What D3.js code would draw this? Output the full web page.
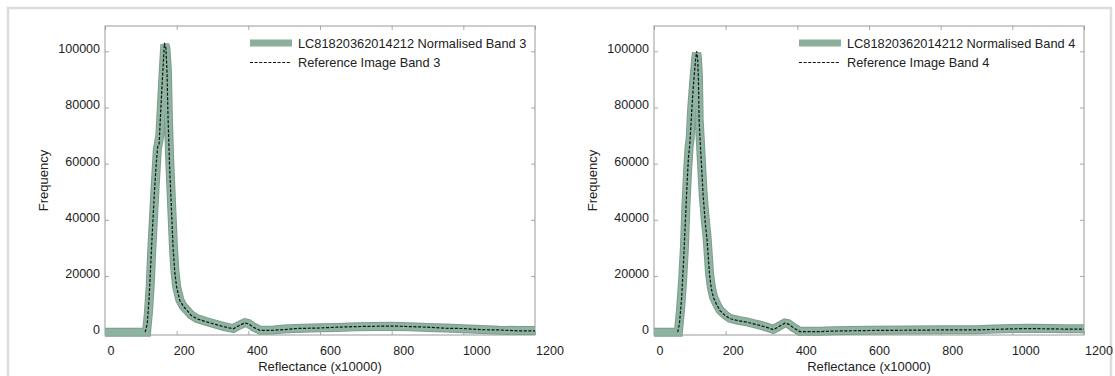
<!DOCTYPE html>
<html>
<head>
<meta charset="utf-8">
<script src="https://cdn.jsdelivr.net/npm/d3@7"></script>
<style>
    body { margin: 0; background: #fff; }
    svg text { font-family: Arial, "Liberation Sans", sans-serif; fill: #222; }
</style>
</head>
<body>
<div id="chart"></div>
<script>
// Reflectance (x10000) vs frequency
const band3 = [[0,0],[110,0],[116,0],[121,6700],[126,16200],[130,28000],[135,40000],[140,52000],[146,65000],[150,68000],[153,70000],[158,82000],[163,94000],[167,102500],[170,101000],[174,93600],[177,76000],[181,60000],[186,45000],[191,30500],[195,22000],[200,16200],[209,11400],[218,9300],[228,7900],[240,6200],[256,4900],[280,3900],[302,3100],[330,2100],[358,1300],[375,2500],[390,3400],[400,3100],[415,1800],[433,700],[470,800],[500,1100],[530,1300],[600,1600],[650,1700],[700,1900],[750,2000],[800,2100],[850,1900],[900,1700],[950,1500],[1000,1200],[1050,1000],[1100,700],[1150,600],[1200,600]];
const ref3 = [[112,0],[118,3000],[123,12000],[128,25000],[133,38000],[138,50000],[143,60000],[147,66000],[151,67000],[156,80000],[161,92000],[166,103000],[170,101000],[173,93000],[176,76000],[180,60000],[185,45000],[190,30000],[195,21000],[200,16000],[209,11200],[220,9000],[230,7600],[240,6000],[256,4800],[280,3800],[302,3000],[330,2000],[358,1200],[375,2400],[390,3300],[400,3000],[415,1700],[433,600],[470,700],[500,900],[530,1300],[600,1500],[650,1800],[700,2000],[750,2100],[800,2200],[850,2000],[900,1800],[950,1400],[1000,1300],[1050,900],[1100,800],[1150,500],[1200,500]];
const band4 = [[0,0],[63,0],[68,0],[74,7900],[80,18600],[85,30500],[89,44800],[94,58000],[98,66000],[101,69000],[105,79300],[112,91200],[117,98000],[119,99500],[121,98000],[124,91200],[126,76000],[131,64000],[137,49500],[143,40000],[148,34000],[155,21000],[160,16000],[166,12600],[175,10000],[184,7900],[198,6200],[212,4900],[235,4200],[259,3700],[280,3000],[296,2500],[315,1800],[333,1000],[350,2200],[365,3300],[375,3000],[390,1600],[407,300],[463,300],[500,500],[600,700],[700,800],[800,900],[900,900],[950,1100],[1000,1300],[1050,1400],[1100,1300],[1150,1200],[1200,1200]];
const ref4 = [[66,0],[71,3000],[77,12000],[82,24000],[87,38000],[92,52000],[96,62000],[100,67000],[104,76000],[110,88000],[116,97000],[119,100000],[122,97000],[124,90000],[126,75000],[131,63000],[137,49000],[143,39000],[148,33000],[155,20500],[160,15500],[166,12300],[175,9800],[184,7700],[198,6000],[212,4800],[235,4100],[259,3600],[280,2900],[296,2400],[315,1700],[333,900],[350,2100],[365,3200],[375,2900],[390,1500],[407,200],[463,200],[500,400],[600,600],[700,700],[800,800],[900,800],[950,1000],[1000,1200],[1050,1300],[1100,1200],[1150,1100],[1200,1100]];

const xTicks = [0, 200, 400, 600, 800, 1000, 1200];
const yTicks = [0, 20000, 40000, 60000, 80000, 100000];
const panels = [
    {left: 105, band: band3, ref: ref3, bandLabel: "LC81820362014212 Normalised Band 3", refLabel: "Reference Image Band 3"},
    {left: 654, band: band4, ref: ref4, bandLabel: "LC81820362014212 Normalised Band 4", refLabel: "Reference Image Band 4"}
];

const svg = d3.select("#chart").append("svg")
    .attr("width", 1115)
    .attr("height", 376);

// light frame around both plots
svg.append("rect")
    .attr("x", 8).attr("y", 8)
    .attr("width", 1103).attr("height", 380)
    .attr("fill", "none")
    .attr("stroke", "#dcdcdc")
    .attr("stroke-width", 2.5);

class HistPanel {
    constructor(p) {
        this.p = p;
        this.top = 26;
        this.width = 430;
        this.height = 309;
        this.g = svg.append("g").attr("transform", `translate(${p.left},${this.top})`);
        this.x = d3.scaleLinear().domain([0, 1200]).range([0, this.width]);
        this.y = d3.scaleLinear().domain([-1000, 109000]).range([this.height, 0]);
        this.drawAxes();
        this.drawLines();
        this.drawLegend();
    }

    drawAxes() {
        const w = this.width, h = this.height;
        // inward ticks on all four sides
        const tickStyle = s => s.call(g => g.select(".domain").remove())
            .call(g => g.selectAll(".tick line").attr("stroke", "#aaa"))
            .call(g => g.selectAll(".tick text").remove());

        this.g.append("g").attr("transform", `translate(0,${h})`)
            .call(d3.axisBottom(this.x).tickValues(xTicks).tickSize(-4)).call(tickStyle);
        this.g.append("g")
            .call(d3.axisTop(this.x).tickValues(xTicks).tickSize(-4)).call(tickStyle);
        this.g.append("g")
            .call(d3.axisLeft(this.y).tickValues(yTicks).tickSize(-4)).call(tickStyle);
        this.g.append("g").attr("transform", `translate(${w},0)`)
            .call(d3.axisRight(this.y).tickValues(yTicks).tickSize(-4)).call(tickStyle);

        this.g.append("rect")
            .attr("width", w).attr("height", h)
            .attr("fill", "none")
            .attr("stroke", "#999")
            .attr("stroke-width", 1);

        // tick labels (sit slightly right of the ticks in the source)
        this.g.selectAll("text.xl").data(xTicks).enter().append("text")
            .attr("class", "xl")
            .attr("x", d => this.x(d) + 6 + d * 0.0075)
            .attr("y", h + 20)
            .attr("text-anchor", "middle")
            .style("font-size", "12.5px")
            .text(d => d);

        this.g.selectAll("text.yl").data(yTicks).enter().append("text")
            .attr("class", "yl")
            .attr("x", -5)
            .attr("y", d => this.y(d) + 2)
            .attr("text-anchor", "end")
            .style("font-size", "12.5px")
            .text(d => d);

        this.g.append("text")
            .attr("x", w / 2).attr("y", h + 36)
            .attr("text-anchor", "middle")
            .style("font-size", "13px")
            .text("Reflectance (x10000)");

        this.g.append("text")
            .attr("transform", `translate(-57,${h / 2}) rotate(-90)`)
            .attr("text-anchor", "middle")
            .style("font-size", "13px")
            .text("Frequency");
    }

    drawLines() {
        const line = d3.line()
            .x(d => this.x(d[0]))
            .y(d => this.y(d[1]));

        // darker rim under the thick band line
        this.g.append("path")
            .attr("d", line(this.p.band))
            .attr("fill", "none")
            .attr("stroke", "#7d9d8c")
            .attr("stroke-width", 9);

        this.g.append("path")
            .attr("d", line(this.p.band))
            .attr("fill", "none")
            .attr("stroke", "#8fb3a1")
            .attr("stroke-width", 7);

        this.g.append("path")
            .attr("d", line(this.p.ref))
            .attr("fill", "none")
            .attr("stroke", "#111")
            .attr("stroke-width", 1.2)
            .attr("stroke-dasharray", "3,1.6");
    }

    drawLegend() {
        const lg = this.g.append("g").attr("transform", "translate(145,0)");
        lg.append("rect")
            .attr("x", 0).attr("y", 13.5)
            .attr("width", 42).attr("height", 7)
            .attr("fill", "#8caf9c");
        lg.append("text")
            .attr("x", 48).attr("y", 21.5)
            .style("font-size", "12.8px")
            .text(this.p.bandLabel);
        lg.append("line")
            .attr("x1", 0).attr("x2", 41)
            .attr("y1", 36.5).attr("y2", 36.5)
            .attr("stroke", "#111")
            .attr("stroke-width", 1.2)
            .attr("stroke-dasharray", "3,1.6");
        lg.append("text")
            .attr("x", 48).attr("y", 41)
            .style("font-size", "12.8px")
            .text(this.p.refLabel);
    }
}

panels.forEach(p => new HistPanel(p));
</script>
</body>
</html>
